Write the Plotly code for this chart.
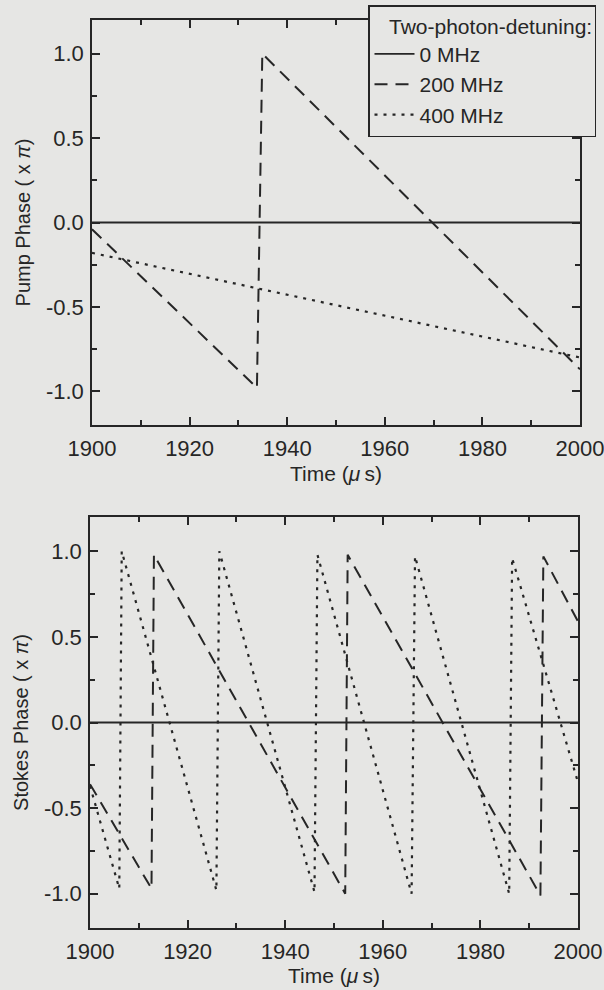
import plotly.graph_objects as go

# ---------------- data ----------------
# Top panel: pump phase (units of pi)
pump_t_0 = [1900, 2000]
pump_y_0 = [0.0, 0.0]
pump_t_200 = [1900, 1933.8, 1934.9, 2000]
pump_y_200 = [-0.04, -0.98, 1.0, -0.87]
pump_t_400 = [1900, 2000]
pump_y_400 = [-0.18, -0.80]

# Bottom panel: Stokes phase (units of pi)
stokes_t_0 = [1900, 2000]
stokes_y_0 = [0.0, 0.0]
stokes_t_200 = [1900, 1912.6, 1913.1, 1952.3, 1952.8, 1992.3, 1992.9, 2000]
stokes_y_200 = [-0.36, -0.97, 0.98, -1.0, 0.98, -1.01, 0.97, 0.59]
stokes_t_400 = [1900, 1906.0, 1906.5, 1925.9, 1926.5, 1946.0, 1946.6,
                1965.9, 1966.6, 1985.9, 1986.5, 2000]
stokes_y_400 = [-0.37, -0.97, 1.0, -0.98, 1.0, -0.99, 0.98,
                -1.0, 0.97, -1.0, 0.96, -0.35]

series_names = ["0 MHz", "200 MHz", "400 MHz"]

x_tickvals = [1900, 1920, 1940, 1960, 1980, 2000]
x_ticktext = ["1900", "1920", "1940", "1960", "1980", "2000"]
x_minorvals = [1910, 1930, 1950, 1970, 1990]
y_tickvals = [-1.0, -0.5, 0.0, 0.5, 1.0]
y_ticktext = ["-1.0", "-0.5", "0.0", "0.5", "1.0"]
y_minorvals = [-0.75, -0.25, 0.25, 0.75]

# ---------------- style ----------------
BG = "#e6e6e4"
INK = "#262626"
FONT = "Liberation Sans, Arial, sans-serif"
TICK_FS = 22
TITLE_FS = 21
YTITLE_FS = 20
LEG_FS = 21
DASH = "13px,8px"
DOT = "3px,6px"
NB = "\u00a0"

fig = go.Figure()

def add(t, y, dash, name, xa, ya, show, width):
    fig.add_trace(go.Scatter(
        x=t, y=y, mode="lines", name=name, xaxis=xa, yaxis=ya,
        showlegend=show, line=dict(color=INK, width=width, dash=dash),
    ))

add(pump_t_0, pump_y_0, "solid", series_names[0], "x", "y", True, 1.8)
add(pump_t_200, pump_y_200, DASH, series_names[1], "x", "y", True, 2)
add(pump_t_400, pump_y_400, DOT, series_names[2], "x", "y", True, 2.2)

add(stokes_t_0, stokes_y_0, "solid", series_names[0], "x2", "y2", False, 1.8)
add(stokes_t_200, stokes_y_200, DASH, series_names[1], "x2", "y2", False, 2)
add(stokes_t_400, stokes_y_400, DOT, series_names[2], "x2", "y2", False, 2.2)

W, H = 604, 990

def xaxis(domain, anchor, standoff):
    return dict(
        domain=domain, anchor=anchor, range=[1900, 2000],
        tickmode="array", tickvals=x_tickvals, ticktext=x_ticktext,
        ticks="inside", ticklen=8, tickwidth=1.5, tickcolor=INK,
        minor=dict(tickmode="array", tickvals=x_minorvals, ticks="inside",
                   ticklen=5, tickwidth=1.5, tickcolor=INK),
        showline=True, linecolor=INK, linewidth=1.6, mirror="ticks",
        showgrid=False, zeroline=False,
        tickfont=dict(family=FONT, size=TICK_FS, color=INK),
        ticklabeloverflow="allow",
        title=dict(text=NB * 3 + "Time (<i>\u03bc</i>\u2009s)",
                   font=dict(family=FONT, size=TITLE_FS, color=INK),
                   standoff=standoff),
        automargin=False, ticklabelstandoff=3,
    )

def yaxis(domain, anchor, title):
    return dict(
        domain=domain, anchor=anchor, range=[-1.2, 1.2],
        tickmode="array", tickvals=y_tickvals, ticktext=y_ticktext,
        ticks="inside", ticklen=8, tickwidth=1.5, tickcolor=INK,
        minor=dict(tickmode="array", tickvals=y_minorvals, ticks="inside",
                   ticklen=5, tickwidth=1.5, tickcolor=INK),
        showline=True, linecolor=INK, linewidth=1.6, mirror="ticks",
        showgrid=False, zeroline=False,
        tickfont=dict(family=FONT, size=TICK_FS, color=INK),
        title=dict(text=title, font=dict(family=FONT, size=YTITLE_FS, color=INK),
                   standoff=10),
        automargin=False, ticklabelstandoff=2,
    )

fig.update_layout(
    width=W, height=H, autosize=False,
    margin=dict(l=0, r=0, t=0, b=0),
    paper_bgcolor=BG, plot_bgcolor=BG,
    font=dict(family=FONT, size=TICK_FS, color=INK),
    xaxis=xaxis([92 / W, 580 / W], "y", 6),
    yaxis=yaxis([1 - 425 / H, 1 - 20 / H], "x", "Pump Phase ( x <i>\u03c0</i>)"),
    xaxis2=xaxis([90 / W, 578 / W], "y2", 4),
    yaxis2=yaxis([1 - 928 / H, 1 - 517 / H], "x2", "Stokes Phase ( x <i>\u03c0</i>)"),
    legend=dict(
        x=368 / W, y=1 - 5 / H, xanchor="left", yanchor="top",
        bgcolor=BG, bordercolor=INK, borderwidth=1.5,
        font=dict(family=FONT, size=LEG_FS, color=INK),
        title=dict(text=NB * 3 + "Two-photon-detuning:",
                   font=dict(family=FONT, size=LEG_FS, color=INK)),
        tracegroupgap=0, itemwidth=40,
    ),
    showlegend=True,
)

fig.write_html("out.html")
